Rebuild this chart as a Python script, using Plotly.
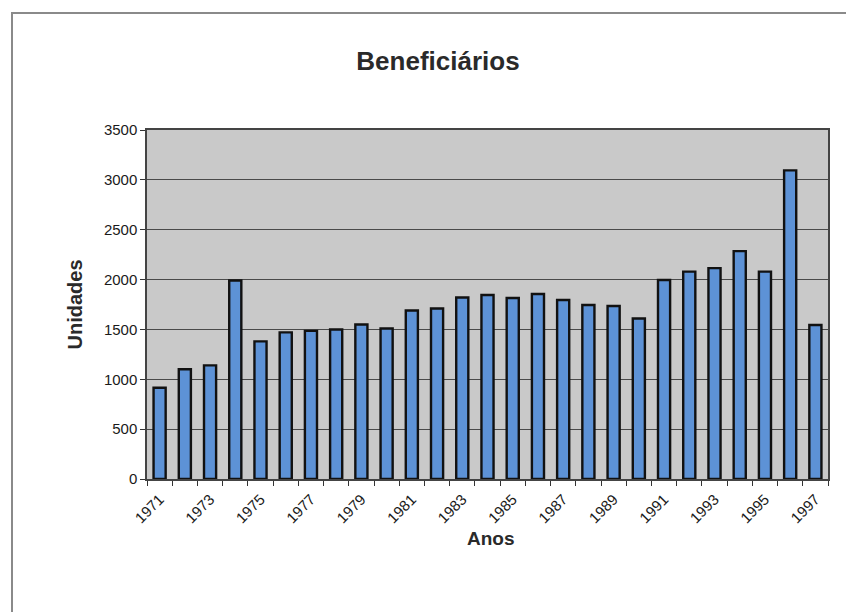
import plotly.graph_objects as go

# Beneficiários por ano
anos = list(range(1971, 1998))
beneficiarios = [
    915, 1100, 1140, 1990, 1380, 1470, 1485, 1500, 1550, 1510,
    1690, 1710, 1820, 1845, 1815, 1855, 1795, 1745, 1735, 1610,
    1995, 2080, 2115, 2285, 2080, 3095, 1545,
]
rotulos_anos = [str(a) for a in anos[::2]]
valores_rotulos = anos[::2]

W, H = 846, 612
ML, MR, MT, MB = 147, 18, 130, 133
plot_w = W - ML - MR
plot_h = H - MT - MB

FONT = "Liberation Sans, Arial, sans-serif"
TXT = "#1a1a1a"

fig = go.Figure(
    go.Bar(
        x=anos,
        y=beneficiarios,
        width=0.48,
        marker=dict(color="#5d92d6", line=dict(color="#111111", width=2.4)),
    )
)

# moldura externa do gráfico (apenas lados superior e esquerdo visíveis)
fx0 = (12 - ML) / plot_w
fy1 = (H - MB - 13) / plot_h
fig.add_shape(
    type="rect", xref="paper", yref="paper",
    x0=fx0, x1=1.2, y0=-0.6, y1=fy1,
    line=dict(color="#8a8a8a", width=2), fillcolor="rgba(0,0,0,0)",
    layer="below",
)

# título do eixo x como anotação, logo abaixo dos rótulos inclinados
fig.add_annotation(
    text="<b>Anos</b>", xref="paper", yref="paper",
    x=(491 - ML) / plot_w, y=-(538 - (H - MB)) / plot_h,
    xanchor="center", yanchor="middle", showarrow=False,
    font=dict(size=19, family=FONT, color="#2a2a2a"),
)

fig.update_layout(
    width=W, height=H,
    margin=dict(l=ML, r=MR, t=MT, b=MB),
    paper_bgcolor="white",
    plot_bgcolor="#c9c9c9",
    showlegend=False,
    font=dict(family=FONT, color=TXT),
    title=dict(
        text="<b>Beneficiários</b>",
        font=dict(size=26, family=FONT, color="#2a2a2a"),
        x=438 / W, xref="container", xanchor="center",
        y=1 - 61 / H, yref="container", yanchor="middle",
    ),
)

fig.update_xaxes(
    range=[1970.5, 1997.5],
    tickmode="array",
    tickvals=valores_rotulos,
    ticktext=rotulos_anos,
    tickangle=-45,
    ticks="outside", ticklen=4, tickcolor="rgba(0,0,0,0)",
    tickfont=dict(size=15, color=TXT),
    minor=dict(tickmode="linear", tick0=1970.5, dtick=1,
               ticks="outside", ticklen=5, tickcolor="#333333", showgrid=False),
    showgrid=False, zeroline=False,
    showline=True, linecolor="#444444", linewidth=1.5, mirror=True,
)

fig.update_yaxes(
    range=[0, 3500],
    tickmode="linear", tick0=0, dtick=500,
    ticks="outside", ticklen=5, tickcolor="#333333",
    tickfont=dict(size=15, color=TXT),
    showgrid=True, gridcolor="#4a4a4a", gridwidth=1,
    zeroline=False,
    showline=True, linecolor="#444444", linewidth=1.5, mirror=True,
    title=dict(text="<b>Unidades</b>", font=dict(size=20, color="#2a2a2a"), standoff=16),
)

fig.write_html("out.html")
